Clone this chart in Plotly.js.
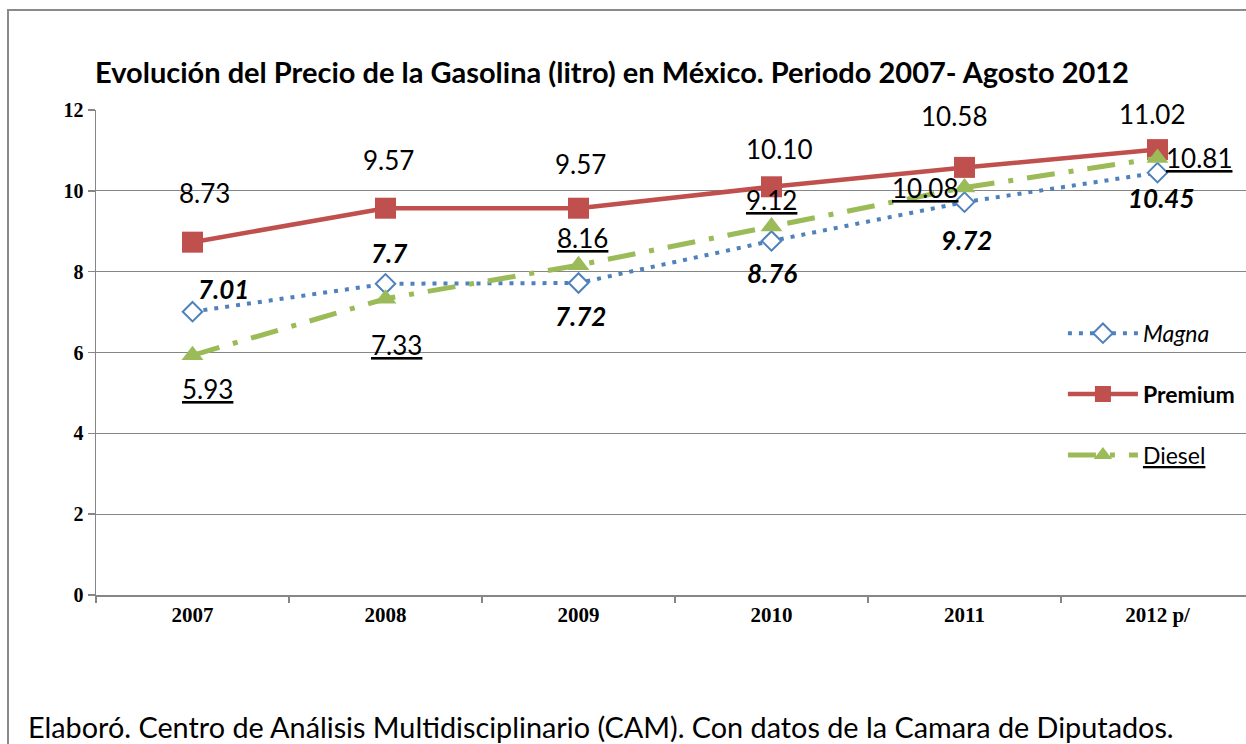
<!DOCTYPE html>
<html>
<head>
<meta charset="utf-8">
<script src="https://cdn.plot.ly/plotly-3.0.1.min.js"></script>
<style>
html,body{margin:0;padding:0;background:#fff;overflow:hidden;width:1246px;height:744px;}
#chart{position:absolute;left:0;top:0;width:1260px;height:744px;}
#frame{position:absolute;left:7px;top:9px;width:1300px;height:800px;border-left:2px solid #8a8a8a;border-top:2px solid #8a8a8a;pointer-events:none;z-index:10;}
</style>
</head>
<body>
<div id="chart"></div>
<div id="frame"></div>
<script>
// ---- data ----
var years = ["2007", "2008", "2009", "2010", "2011", "2012 p/"];
var magna = [7.01, 7.7, 7.72, 8.76, 9.72, 10.45];
var premium = [8.73, 9.57, 9.57, 10.10, 10.58, 11.02];
var diesel = [5.93, 7.33, 8.16, 9.12, 10.08, 10.81];
var magnaLabels = ["7.01", "7.7", "7.72", "8.76", "9.72", "10.45"];
var premiumLabels = ["8.73", "9.57", "9.57", "10.10", "10.58", "11.02"];
var dieselLabels = ["5.93", "7.33", "8.16", "9.12", "10.08", "10.81"];

// ---- label offsets (pixels) ----
var magnaOff = [[31,-23],[3,-31],[2,33],[0,32],[2,38],[4,25]];
var premiumOff = [[12,-49],[3,-48],[2,-44],[7,-38],[-11,-51],[-6,-36]];
var dieselOff = [[15,34],[11,46],[4,-27],[0,-26],[-40,0],[41,0]];

var labelFont = {family: "Lato, 'Noto Sans', sans-serif", size: 26, color: "#000"};

function makeAnn(vals, labels, offs, wrapL, wrapR) {
  return vals.map(function (v, i) {
    return {
      x: i, y: v, xref: "x", yref: "y",
      text: wrapL + labels[i] + wrapR,
      showarrow: false,
      xshift: offs[i][0], yshift: -offs[i][1],
      font: labelFont
    };
  });
}

var annotations = []
  .concat(makeAnn(magna, magnaLabels, magnaOff, "<b><i>", "</i></b>"))
  .concat(makeAnn(premium, premiumLabels, premiumOff, "", ""))
  .concat(makeAnn(diesel, dieselLabels, dieselOff, "<u>", "</u>"));

annotations.push({
  xref: "paper", yref: "paper", x: -0.0605, y: -0.272,
  xanchor: "left", yanchor: "middle", showarrow: false,
  text: "Elaboró. Centro de Análisis Multidisciplinario (CAM). Con datos de la Camara de Diputados.",
  font: {family: "Lato, 'Noto Sans', sans-serif", size: 28.8, color: "#000"}
});

var traces = [
  {
    x: years, y: magna, name: "<i>Magna</i>", type: "scatter", mode: "lines+markers",
    legendgroup: "a",
    line: {color: "#4F81BD", width: 4, dash: "4px,7px"},
    marker: {symbol: "diamond", size: 15, color: "#ffffff", line: {color: "#4F81BD", width: 2}}
  },
  {
    x: years, y: premium, name: "<b>Premium</b>", type: "scatter", mode: "lines+markers",
    legendgroup: "b",
    line: {color: "#C0504D", width: 4.5},
    marker: {symbol: "square", size: 21, color: "#C0504D"}
  },
  {
    x: years, y: diesel, name: "<u>Diesel</u>", type: "scatter", mode: "lines+markers",
    legendgroup: "c",
    line: {color: "#9BBB59", width: 5, dash: "28px,14px,5px,14px"},
    marker: {symbol: "triangle-up", size: 19, color: "#9BBB59"}
  }
];

var layout = {
  width: 1260, height: 744,
  margin: {l: 96, r: 6, t: 110, b: 149},
  paper_bgcolor: "#ffffff", plot_bgcolor: "#ffffff",
  showlegend: true,
  title: {
    text: "Evolución del Precio de la Gasolina (litro) en México. Periodo 2007- Agosto 2012",
    x: 0.4857, xanchor: "center", y: 0.902, yanchor: "middle",
    font: {family: "Lato, 'Noto Sans', sans-serif", size: 29, color: "#000", weight: 700}
  },
  xaxis: {
    type: "category", range: [-0.5, 5.5],
    showline: true, linecolor: "#868686", linewidth: 1.5,
    ticks: "outside", tickson: "boundaries", ticklen: 6, tickcolor: "#868686", tickwidth: 1.5,
    showgrid: false, zeroline: false,
    tickfont: {family: "'Liberation Serif', serif", size: 21, color: "#000", weight: 700}
  },
  yaxis: {
    range: [0, 12], dtick: 2, tick0: 0,
    showline: true, linecolor: "#868686", linewidth: 1.5,
    ticks: "outside", ticklen: 7, tickcolor: "#868686", tickwidth: 1.5,
    showgrid: true, gridcolor: "#868686", gridwidth: 1.2, zeroline: false,
    tickfont: {family: "'Liberation Serif', serif", size: 20, color: "#000", weight: 700}
  },
  legend: {
    x: 0.835, y: 0.584, xanchor: "left", yanchor: "top",
    bgcolor: "rgba(0,0,0,0)", borderwidth: 0,
    traceorder: "grouped", tracegroupgap: 28, itemwidth: 70,
    font: {family: "Lato, 'Noto Sans', sans-serif", size: 23, color: "#000"}
  },
  annotations: annotations
};

Plotly.newPlot("chart", traces, layout, {displayModeBar: false, staticPlot: true});
</script>
</body>
</html>
